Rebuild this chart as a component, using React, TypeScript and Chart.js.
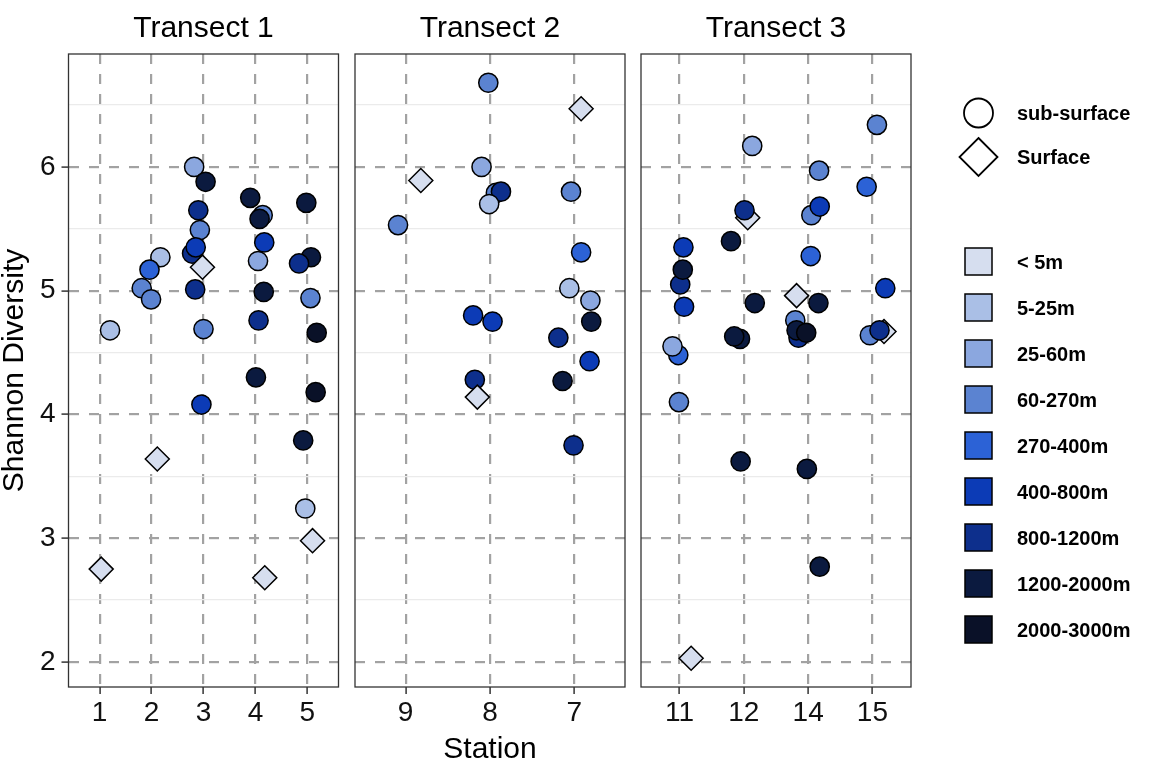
import React, { useEffect, useRef } from 'react';
import { Chart, registerables } from 'chart.js';

Chart.register(...registerables);

const FONT = '"Liberation Sans", Arial, Helvetica, sans-serif';

// ---------- data ----------
const depthLabels = ['< 5m', '5-25m', '25-60m', '60-270m', '270-400m', '400-800m', '800-1200m', '1200-2000m', '2000-3000m'];
const depthColors = ['#d6deef', '#aabfe6', '#8ba7df', '#5b83d1', '#2c62d6', '#0c3bb6', '#0d2f8c', '#0b1a3f', '#0a1128'];
const shapeLabels = ['sub-surface', 'Surface'];
const panelTitles = ['Transect 1', 'Transect 2', 'Transect 3'];
const xAxisTitle = 'Station';
const yAxisTitle = 'Shannon Diversity';
const yMajorTicks = [2, 3, 4, 5, 6];
const yMinorTicks = [2.5, 3.5, 4.5, 5.5, 6.5];

// Transect 1
const t1Stations = ['1', '2', '3', '4', '5'];
const t1Station = ['1', '1', '2', '2', '2', '2', '2', '3', '3', '3', '3', '3', '3', '3', '3', '3', '3', '4', '4', '4', '4', '4', '4', '4', '4', '4', '5', '5', '5', '5', '5', '5', '5', '5', '5'];
const t1Jitter = [0.2, 0.03, 0.17, -0.04, -0.19, -0.01, 0.11, -0.18, 0.04, -0.1, -0.07, -0.22, -0.15, -0.02, -0.16, 0, -0.04, -0.1, 0.14, 0.08, 0.17, 0.05, 0.16, 0.06, 0.01, 0.18, -0.02, 0.07, -0.16, 0.06, 0.18, 0.16, -0.08, -0.04, 0.1];
const t1Shannon = [4.68, 2.75, 5.27, 5.17, 5.02, 4.93, 3.64, 6.0, 5.88, 5.65, 5.49, 5.3, 5.35, 5.19, 5.01, 4.69, 4.08, 5.75, 5.61, 5.58, 5.39, 5.24, 4.99, 4.76, 4.3, 2.68, 5.71, 5.27, 5.22, 4.94, 4.66, 4.18, 3.79, 3.24, 2.98];
const t1Depth = [1, 0, 1, 4, 3, 3, 0, 2, 7, 6, 3, 6, 5, 0, 6, 3, 5, 7, 3, 7, 5, 2, 7, 6, 7, 0, 7, 7, 6, 3, 8, 8, 7, 1, 0];
const t1Surface = [0, 1, 0, 0, 0, 0, 1, 0, 0, 0, 0, 0, 0, 1, 0, 0, 0, 0, 0, 0, 0, 0, 0, 0, 0, 1, 0, 0, 0, 0, 0, 0, 0, 0, 1];

// Transect 2
const t2Stations = ['9', '8', '7'];
const t2Station = ['9', '9', '8', '8', '8', '8', '8', '8', '8', '8', '8', '7', '7', '7', '7', '7', '7', '7', '7', '7', '7'];
const t2Jitter = [-0.09, 0.18, -0.02, -0.1, 0.07, 0.13, -0.01, -0.2, 0.03, -0.18, -0.15, 0.08, -0.04, 0.08, -0.06, 0.19, 0.2, -0.19, 0.18, -0.14, -0.01];
const t2Shannon = [5.53, 5.89, 6.68, 6.0, 5.79, 5.8, 5.7, 4.8, 4.75, 4.28, 4.14, 6.47, 5.8, 5.31, 5.02, 4.92, 4.75, 4.62, 4.43, 4.27, 3.75];
const t2Depth = [3, 0, 3, 2, 3, 6, 1, 5, 5, 6, 0, 0, 3, 4, 1, 2, 7, 6, 5, 7, 6];
const t2Surface = [0, 1, 0, 0, 0, 0, 0, 0, 0, 0, 1, 1, 0, 0, 0, 0, 0, 0, 0, 0, 0];

// Transect 3
const t3Stations = ['11', '12', '14', '15'];
const t3Station = ['11', '11', '11', '11', '11', '11', '11', '11', '12', '12', '12', '12', '12', '12', '12', '12', '14', '14', '14', '14', '14', '14', '14', '14', '14', '14', '14', '14', '15', '15', '15', '15', '15', '15'];
const t3Jitter = [-0.02, -0.11, 0.06, 0.01, 0.05, 0.07, -0.01, 0.18, 0.13, 0.06, 0.01, -0.2, 0.17, -0.06, -0.15, -0.05, 0.17, 0.05, 0.18, 0.04, -0.18, 0.16, -0.2, -0.15, -0.18, -0.03, -0.02, 0.18, 0.07, -0.09, 0.2, -0.04, 0.18, 0.11];
const t3Shannon = [4.48, 4.55, 5.35, 5.05, 5.17, 4.87, 4.1, 2.03, 6.17, 5.59, 5.65, 5.4, 4.9, 4.61, 4.63, 3.62, 5.97, 5.61, 5.68, 5.28, 4.96, 4.9, 4.76, 4.62, 4.68, 4.66, 3.56, 2.77, 6.34, 5.84, 5.02, 4.64, 4.67, 4.68];
const t3Depth = [4, 2, 5, 6, 7, 5, 3, 0, 2, 0, 6, 7, 7, 7, 7, 7, 3, 3, 5, 4, 0, 7, 3, 6, 7, 8, 7, 7, 3, 4, 5, 3, 0, 6];
const t3Surface = [0, 0, 0, 0, 0, 0, 0, 1, 0, 1, 0, 0, 0, 0, 0, 0, 0, 0, 0, 0, 1, 0, 0, 0, 0, 0, 0, 0, 0, 0, 0, 0, 1, 0];

type Panel = {
  title: string;
  stations: string[];
  station: string[];
  jitter: number[];
  shannon: number[];
  depth: number[];
  surface: number[];
};

const panels: Panel[] = [
  { title: panelTitles[0], stations: t1Stations, station: t1Station, jitter: t1Jitter, shannon: t1Shannon, depth: t1Depth, surface: t1Surface },
  { title: panelTitles[1], stations: t2Stations, station: t2Station, jitter: t2Jitter, shannon: t2Shannon, depth: t2Depth, surface: t2Surface },
  { title: panelTitles[2], stations: t3Stations, station: t3Station, jitter: t3Jitter, shannon: t3Shannon, depth: t3Depth, surface: t3Surface },
];

const allY = [...t1Shannon, ...t2Shannon, ...t3Shannon];
const yLo = Math.min(...allY);
const yHi = Math.max(...allY);
const yExp = (yHi - yLo) * 0.05;

// ---------- layout ----------
const W = 1152;
const H = 768;
const PLOT_BOTTOM = 687;
const PANEL_BOX = [
  { left: 68.5, right: 338.5 },
  { left: 355, right: 625 },
  { left: 641, right: 911 },
];
const MAJOR = '#a2a2a2';
const MINOR = '#ebebeb';
const TEXT = '#111';

const borderPlugin = {
  id: 'panelBorder',
  afterDraw(chart: any) {
    const { ctx, chartArea: a } = chart;
    ctx.save();
    ctx.strokeStyle = '#333';
    ctx.lineWidth = 1.3;
    ctx.strokeRect(a.left, a.top, a.right - a.left, a.bottom - a.top);
    ctx.restore();
  },
};

const isMajor = (c: any) => !!c.tick && Number.isInteger(c.tick.value);

function buildConfig(p: Panel, idx: number): any {
  const first = idx === 0;
  const box = PANEL_BOX[idx];
  const pts = p.station.map((s, i) => ({ x: p.stations.indexOf(s) + 1 + p.jitter[i], y: p.shannon[i] }));
  const radii = p.surface.map((s) => (s ? 12 : 9.6));
  return {
    type: 'scatter',
    data: {
      datasets: [
        {
          data: pts,
          pointStyle: p.surface.map((s) => (s ? 'rectRot' : 'circle')),
          pointRadius: radii,
          pointHoverRadius: radii,
          pointBackgroundColor: p.depth.map((d) => depthColors[d]),
          pointBorderColor: '#000',
          pointBorderWidth: 1.5,
          clip: false,
        },
      ],
    },
    options: {
      responsive: false,
      animation: false,
      events: [],
      layout: { padding: { left: first ? 0 : box.left, right: W - box.right, top: 0, bottom: 0 } },
      plugins: {
        legend: { display: false },
        tooltip: { enabled: false },
        title: {
          display: true,
          text: p.title,
          fullSize: false,
          color: '#000',
          font: { family: FONT, size: 30, weight: 'normal', lineHeight: 1.2 },
          padding: { top: 11, bottom: 7 },
        },
      },
      scales: {
        x: {
          type: 'linear',
          min: 0.4,
          max: p.stations.length + 0.6,
          afterBuildTicks: (s: any) => {
            s.ticks = p.stations.map((_, i) => ({ value: i + 1 }));
          },
          afterFit: (s: any) => {
            s.height = H - PLOT_BOTTOM;
          },
          ticks: {
            callback: (v: number) => p.stations[Math.round(v) - 1] ?? '',
            font: { family: FONT, size: 28 },
            color: TEXT,
            padding: 2,
            maxRotation: 0,
            autoSkip: false,
          },
          grid: {
            color: MAJOR,
            lineWidth: 2.2,
            drawTicks: true,
            tickLength: 7,
            tickColor: '#333',
            tickWidth: 1.5,
            tickBorderDash: [],
          },
          border: { display: false, dash: [10, 10] },
          title: {
            display: idx === 1,
            text: xAxisTitle,
            color: '#000',
            font: { family: FONT, size: 30, lineHeight: 1.2 },
            padding: { top: 0, bottom: 0 },
          },
        },
        y: {
          type: 'linear',
          min: yLo - yExp,
          max: yHi + yExp,
          afterBuildTicks: (s: any) => {
            s.ticks = [...yMajorTicks, ...yMinorTicks].sort((a, b) => a - b).map((v) => ({ value: v }));
          },
          afterFit: (s: any) => {
            s.width = first ? box.left : 0;
          },
          ticks: {
            display: first,
            callback: (v: number) => (Number.isInteger(v) ? String(v) : ''),
            font: { family: FONT, size: 28 },
            color: TEXT,
            padding: 6,
            autoSkip: false,
          },
          grid: {
            color: (c: any) => (isMajor(c) ? MAJOR : MINOR),
            lineWidth: (c: any) => (isMajor(c) ? 2.2 : 1.2),
            drawTicks: first,
            tickLength: 7,
            tickColor: (c: any) => (isMajor(c) ? '#333' : 'rgba(0,0,0,0)'),
            tickWidth: 1.5,
            tickBorderDash: [],
          },
          border: { display: false, dash: (c: any) => (isMajor(c) ? [10, 10] : []) },
          title: {
            display: first,
            text: yAxisTitle,
            color: '#000',
            font: { family: FONT, size: 30, lineHeight: 1 },
            padding: 0,
          },
        },
      },
    },
    plugins: [borderPlugin],
  };
}

function PanelChart({ idx }: { idx: number }) {
  const ref = useRef<HTMLCanvasElement>(null);
  useEffect(() => {
    const chart = new Chart(ref.current as HTMLCanvasElement, buildConfig(panels[idx], idx));
    return () => chart.destroy();
  }, [idx]);
  return (
    <canvas
      ref={ref}
      width={W}
      height={H}
      style={{ position: 'absolute', left: 0, top: 0, width: W, height: H }}
    />
  );
}

function Legend() {
  const cx = 978.5;
  const textX = 1017;
  const legendFont = { fontFamily: FONT, fontWeight: 700, fontSize: 20 } as const;
  const shapeY = [113, 157];
  const fillY0 = 261.5;
  const fillStep = 46;
  const half = 13.5;
  return (
    <svg width={W} height={H} style={{ position: 'absolute', left: 0, top: 0 }}>
      <circle cx={cx} cy={shapeY[0]} r={14.5} fill="#fff" stroke="#000" strokeWidth={1.8} />
      <polygon
        points={`${cx},${shapeY[1] - 19} ${cx + 19},${shapeY[1]} ${cx},${shapeY[1] + 19} ${cx - 19},${shapeY[1]}`}
        fill="#fff"
        stroke="#000"
        strokeWidth={1.8}
      />
      {shapeLabels.map((l, i) => (
        <text key={l} x={textX} y={shapeY[i]} dominantBaseline="central" fill="#000" style={legendFont}>
          {l}
        </text>
      ))}
      {depthLabels.map((l, i) => (
        <g key={l}>
          <rect
            x={cx - half}
            y={fillY0 + i * fillStep - half}
            width={half * 2}
            height={half * 2}
            fill={depthColors[i]}
            stroke="#000"
            strokeWidth={1.5}
          />
          <text x={textX} y={fillY0 + i * fillStep} dominantBaseline="central" fill="#000" style={legendFont}>
            {l}
          </text>
        </g>
      ))}
    </svg>
  );
}

export default function App() {
  return (
    <div style={{ position: 'absolute', left: 0, top: 0, width: W, height: H, background: '#fff', overflow: 'hidden' }}>
      {panels.map((_, i) => (
        <PanelChart key={i} idx={i} />
      ))}
      <Legend />
    </div>
  );
}
